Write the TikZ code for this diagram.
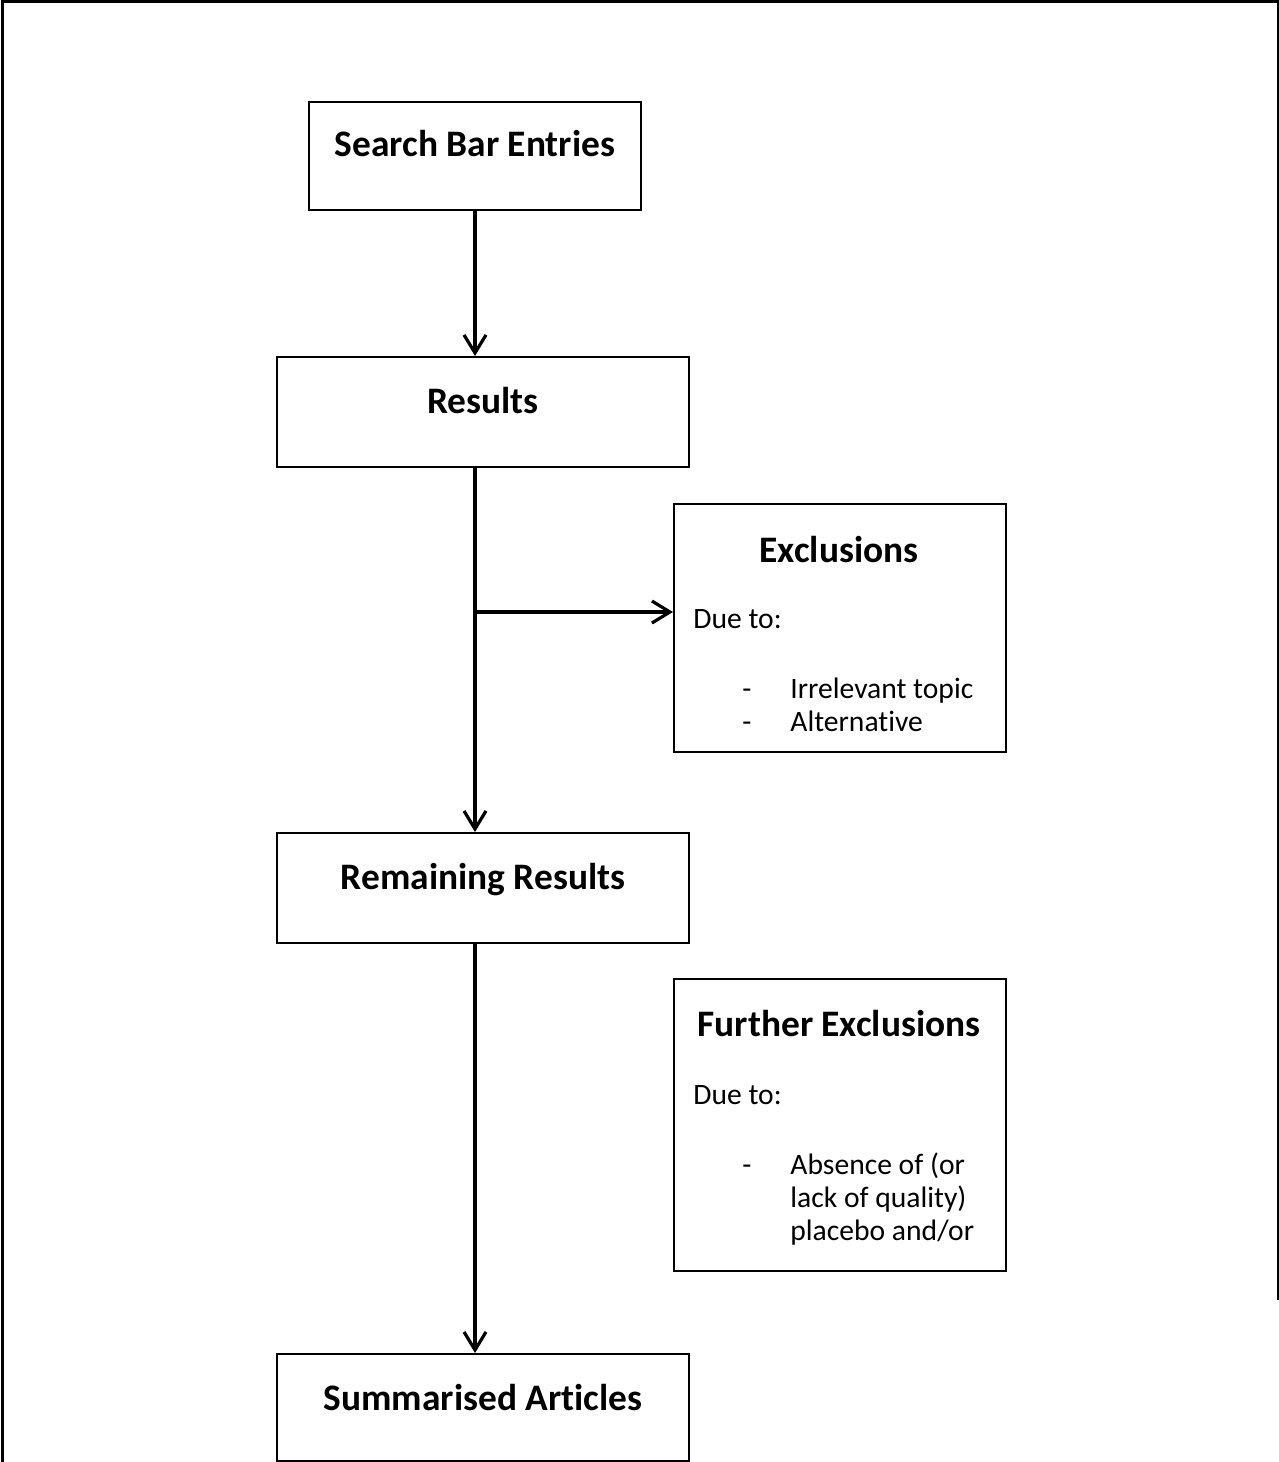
\documentclass[tikz,border=0pt]{standalone}
\usepackage{fontspec}
\setmainfont{Carlito}[Ligatures=NoCommon]
\usetikzlibrary{arrows.meta}

\begin{document}
\begin{tikzpicture}[x=0.5pt,y=-0.5pt,
  flowbox/.style={draw, line width=0.8pt, inner sep=0pt, minimum width=206pt, text height=28.5pt, text depth=26.5pt, anchor=north, font=\fontsize{18.7}{22}\selectfont\bfseries},
  sidebox/.style={draw, line width=0.8pt, inner sep=0pt, minimum width=166pt, anchor=north west},
  sidetitle/.style={anchor=base, inner sep=0pt, font=\fontsize{18.7}{22}\selectfont\bfseries},
  sidetext/.style={anchor=base west, inner sep=0pt, font=\fontsize{14.8}{16.5}\selectfont},
  flow/.style={line width=1.6pt, -{Straight Barb[length=9pt,width=11pt]}}]
\useasboundingbox (0,0) rectangle (1279,1462);
\draw[line width=1.5pt] (2,1462) -- (2,1) -- (1278,1) -- (1278,1300);

\node[flowbox, minimum width=166pt, text height=27.5pt] (search) at (475,101) {Search Bar Entries};
\node[flowbox] (results) at (483,356) {Results};
\node[flowbox] (remaining) at (483,832) {Remaining Results};
\node[flowbox, text depth=25pt] (summary) at (483,1353) {Summarised Articles};

% exclusion boxes
\node[sidebox, minimum height=124pt] (excl) at (673,503) {};
\node[sidetitle] (excltitle) at (839,562) {Exclusions};
\node[sidetext] (excldue) at (693,628) {Due to:};
\node[sidetext] (excllist) at (742,698) {\begin{tabular}[t]{@{}p{24pt}@{}l@{}}
  - & Irrelevant topic\\
  - & Alternative
\end{tabular}};

\node[sidebox, minimum height=146pt] (further) at (673,978) {};
\node[sidetitle] (furthertitle) at (839,1036) {Further Exclusions};
\node[sidetext] (furtherdue) at (693,1104) {Due to:};
\node[sidetext] (furtherlist) at (742,1174) {\begin{tabular}[t]{@{}p{24pt}@{}l@{}}
  - & Absence of (or\\
    & lack of quality)\\
    & placebo and/or
\end{tabular}};

\coordinate (split) at (475,612);
\draw[flow] (search.south) -- (search.south |- results.north);
\draw[flow] (search.south |- results.south) -- (search.south |- remaining.north);
\draw[flow] (split) -- (split -| excl.west);
\draw[flow] (search.south |- remaining.south) -- (search.south |- summary.north);
\end{tikzpicture}
\end{document}
